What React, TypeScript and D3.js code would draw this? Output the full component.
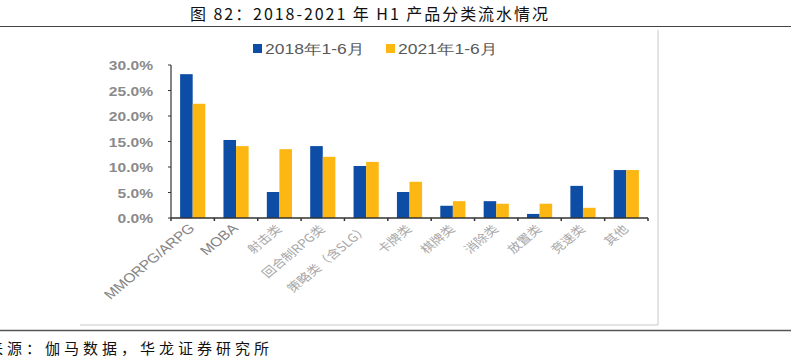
import React from "react";
import * as d3 from "d3";

const categories = [
  "MMORPG/ARPG",
  "MOBA",
  "射击类",
  "回合制RPG类",
  "策略类（含SLG）",
  "卡牌类",
  "棋牌类",
  "消除类",
  "放置类",
  "竞速类",
  "其他",
];
const series2018 = [28.2, 15.3, 5.1, 14.1, 10.2, 5.1, 2.4, 3.3, 0.8, 6.3, 9.4];
const series2021 = [22.4, 14.1, 13.5, 12.0, 11.0, 7.1, 3.3, 2.8, 2.8, 2.0, 9.4];
const seriesNames = ["2018年1-6月", "2021年1-6月"];
const yTicks = [0, 5, 10, 15, 20, 25, 30];
const titleText = "图 82：2018-2021 年 H1 产品分类流水情况";
const sourceText = "来源：伽马数据，华龙证券研究所";

const W = 791;
const H = 356;
const BLUE = "#0D4DA6";
const ORANGE = "#FCB712";
const SX = 1.2;

export default function App() {
  const x0 = d3
    .scaleBand<string>()
    .domain(categories)
    .range([171, 648])
    .paddingInner(0.42)
    .paddingOuter(0.21);
  const x1 = d3
    .scaleBand<string>()
    .domain(seriesNames)
    .range([0, x0.bandwidth()])
    .padding(0);
  const y = d3.scaleLinear().domain([0, 30]).range([218, 65]);
  const colors = [BLUE, ORANGE];
  const data = [series2018, series2021];
  const step = x0.step();
  const latinFont = "'Liberation Sans', Arial, sans-serif";
  const cjkFont = "'Noto Sans CJK SC', sans-serif";
  const isLatin = (s: string) => /^[A-Za-z/]+$/.test(s);

  return (
    <svg
      width={W}
      height={H}
      style={{ position: "absolute", left: 0, top: 0, background: "#fff" }}
    >
      {/* title */}
      <text
        x={369}
        y={20}
        textAnchor="middle"
        fontFamily={cjkFont}
        fontSize={16}
        fill="#111"
        textLength={358}
        lengthAdjust="spacing"
      >
        {titleText}
      </text>
      <line x1={0} x2={W} y1={26.5} y2={26.5} stroke="#444" strokeWidth={1.2} />

      {/* frame */}
      <line x1={658} x2={658} y1={30} y2={325} stroke="#c8c8c8" strokeWidth={1} />
      <line x1={80} x2={658} y1={325} y2={325} stroke="#c8c8c8" strokeWidth={1} />
      <line x1={0} x2={W} y1={330.5} y2={330.5} stroke="#555" strokeWidth={1.5} />

      {/* legend */}
      {seriesNames.map((n, i) => {
        const lx = i === 0 ? 253 : 386;
        return (
          <g key={n}>
            <rect x={lx} y={44} width={9} height={9} fill={colors[i]} />
            <text
              transform={`translate(${lx + 12},54) scale(1.25,1)`}
              fontFamily={latinFont}
              fontSize={14}
              fill="#595959"
            >
              {n}
            </text>
          </g>
        );
      })}

      {/* y axis */}
      <line x1={171} x2={171} y1={y(30)} y2={y(0)} stroke="#333" strokeWidth={1.2} />
      {yTicks.map((t) => (
        <g key={t}>
          <line x1={168} x2={171} y1={y(t)} y2={y(t)} stroke="#333" strokeWidth={1} />
          <text
            transform={`translate(153,${y(t) + 5}) scale(${SX},1)`}
            textAnchor="end"
            fontFamily={latinFont}
            fontSize={13}
            fontWeight="bold"
            fill="#8a8a8a"
          >
            {t.toFixed(1) + "%"}
          </text>
        </g>
      ))}

      {/* bars */}
      {categories.map((c, ci) => (
        <g key={c} transform={`translate(${x0(c)},0)`}>
          {data.map((s, si) => (
            <rect
              key={si}
              x={x1(seriesNames[si])}
              y={y(s[ci])}
              width={x1.bandwidth()}
              height={y(0) - y(s[ci])}
              fill={colors[si]}
            />
          ))}
        </g>
      ))}

      {/* x axis */}
      <line x1={171} x2={648} y1={y(0)} y2={y(0)} stroke="#333" strokeWidth={1.5} />
      {d3.range(categories.length + 1).map((i) => (
        <line
          key={i}
          x1={171 + i * step}
          x2={171 + i * step}
          y1={y(0)}
          y2={y(0) + 3}
          stroke="#333"
          strokeWidth={1.5}
        />
      ))}
      {categories.map((c) => {
        const cx = (x0(c) as number) + x0.bandwidth() / 2;
        const latin = isLatin(c);
        return (
          <text
            key={c}
            transform={`translate(${cx + 3},${latin ? 229 : 230}) scale(${SX},1) rotate(-45)`}
            textAnchor="end"
            fontFamily={latin ? latinFont : cjkFont}
            fontSize={latin ? 13 : 11.5}
            fontWeight="normal"
            fill={latin ? "#858585" : "#a8a8a8"}
          >
            {c}
          </text>
        );
      })}

      {/* source */}
      <text
        x={-12}
        y={354}
        fontFamily={cjkFont}
        fontSize={15}
        fill="#111"
        letterSpacing={4}
      >
        {sourceText}
      </text>
    </svg>
  );
}
